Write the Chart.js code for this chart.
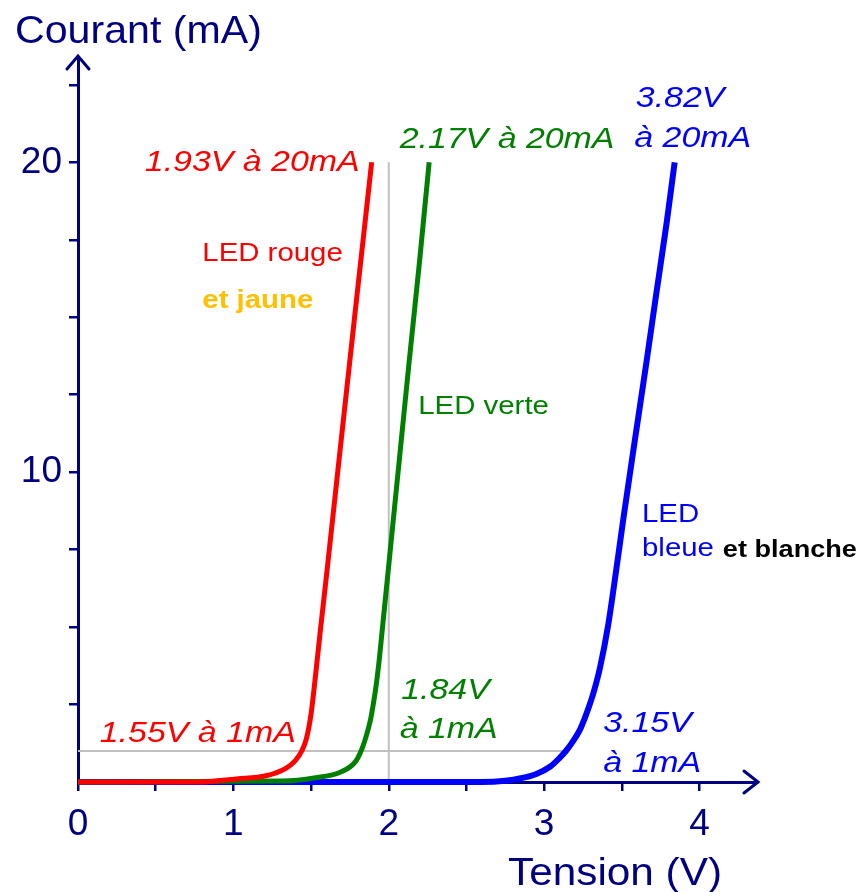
<!DOCTYPE html>
<html><head><meta charset="utf-8">
<script src="https://cdn.jsdelivr.net/npm/chart.js@4.4.1/dist/chart.umd.min.js"></script>
<style>html,body{margin:0;padding:0;background:#fff}canvas{display:block}</style>
</head><body>
<canvas id="c" width="859" height="892"></canvas>
<script>
// ---- data ----
const redVoltage   = [0, 0.78, 1.02, 1.21, 1.34, 1.40, 1.44, 1.47, 1.50, 1.53, 1.56, 1.60, 1.68, 1.78, 1.89];
const redCurrent   = [0, 0,    0.10, 0.20, 0.45, 0.70, 1.00, 1.40, 2.20, 3.50, 4.90, 6.70, 10.4, 15.0, 20.0];
const greenVoltage = [0, 1.32, 1.53, 1.68, 1.77, 1.80, 1.83, 1.86, 1.88, 1.90, 1.92, 1.94, 1.96, 2.01, 2.06, 2.13, 2.20, 2.26];
const greenCurrent = [0, 0.03, 0.14, 0.30, 0.57, 0.77, 1.10, 1.57, 1.95, 2.50, 3.16, 4.00, 5.00, 7.50, 10.0, 13.5, 16.9, 20.0];
const blueVoltage  = [0, 2.60, 2.75, 2.85, 2.95, 3.04, 3.10, 3.14, 3.18, 3.23, 3.26, 3.29, 3.32, 3.36, 3.41, 3.46, 3.51, 3.58, 3.66, 3.72, 3.79, 3.84];
const blueCurrent  = [0, 0,    0.04, 0.12, 0.26, 0.50, 0.78, 1.00, 1.27, 1.68, 2.04, 2.45, 2.92, 3.70, 5.00, 6.70, 8.50, 10.9, 13.6, 15.7, 18.1, 20.0];
const guideVertVoltage = [2, 2];
const guideVertCurrent = [0, 20];
const guideHorVoltage  = [0, 3.12];
const guideHorCurrent  = [1, 1];

const xTickValues = [0, 0.5, 1, 1.5, 2, 2.5, 3, 3.5, 4];
const xTickLabels = ['0', '', '1', '', '2', '', '3', '', '4'];
const yTickValues = [2.5, 5, 7.5, 10, 12.5, 15, 17.5, 20, 22.5];
const yTickLabels = ['', '', '', '10', '', '', '', '20', ''];

const xTitle = 'Tension (V)';
const yTitle = 'Courant (mA)';

// ---- styles ----
const NAVY = '#000080', RED = '#ff0000', GREEN = '#008000', BLUE = '#0000ff', GREY = '#c0c0c0', GOLD = '#ffc000';
const FAM = "'Liberation Sans', Arial, sans-serif";

// text labels anchored in data units (voltage, current) : left edge / baseline
const notes = [
  {t:'1.93V à 20mA', v:0.43, i:19.71, c:RED,   f:'italic 30px '},
  {t:'2.17V à 20mA', v:2.07, i:20.45, c:GREEN, f:'italic 30px '},
  {t:'3.82V',        v:3.59, i:21.78, c:BLUE,  f:'italic 30px '},
  {t:'à 20mA',       v:3.58, i:20.49, c:BLUE,  f:'italic 30px '},
  {t:'LED rouge',    v:0.80, i:16.83, c:RED,   f:'26px '},
  {t:'et jaune',     v:0.80, i:15.31, c:GOLD,  f:'bold 26px '},
  {t:'LED verte',    v:2.19, i:11.88, c:GREEN, f:'26px '},
  {t:'LED',          v:3.63, i:8.38,  c:BLUE,  f:'26px '},
  {t:'bleue',        v:3.63, i:7.28,  c:BLUE,  f:'26px '},
  {t:'et blanche',   v:4.15, i:7.25,  c:'#000', f:'bold 24px '},
  {t:'1.55V à 1mA',  v:0.14, i:1.29,  c:RED,   f:'italic 30px '},
  {t:'1.84V',        v:2.08, i:2.69,  c:GREEN, f:'italic 30px '},
  {t:'à 1mA',        v:2.07, i:1.42,  c:GREEN, f:'italic 30px '},
  {t:'3.15V',        v:3.38, i:1.62,  c:BLUE,  f:'italic 30px '},
  {t:'à 1mA',        v:3.38, i:0.32,  c:BLUE,  f:'italic 30px '}
];

const pts = (xs, ys) => xs.map((x, k) => ({x: x, y: ys[k]}));

function drawStretched(ctx, str, x, y, font, color, sx) {
  ctx.save();
  ctx.font = font + FAM;
  ctx.fillStyle = color;
  ctx.textBaseline = 'alphabetic';
  ctx.textAlign = 'left';
  ctx.translate(x, y);
  ctx.scale(sx, 1);
  ctx.fillText(str, 0, 0);
  ctx.restore();
}

const decor = {
  id: 'decor',
  afterDraw(chart) {
    const ctx = chart.ctx, xs = chart.scales.x, ys = chart.scales.y, a = chart.chartArea;
    // arrows
    ctx.save();
    ctx.strokeStyle = NAVY; ctx.lineWidth = 3; ctx.lineCap = 'round'; ctx.lineJoin = 'miter';
    ctx.beginPath();
    ctx.moveTo(a.left - 11, a.top + 12); ctx.lineTo(a.left, a.top - 1); ctx.lineTo(a.left + 11, a.top + 12);
    ctx.stroke();
    ctx.beginPath();
    ctx.moveTo(a.right - 13, a.bottom - 11); ctx.lineTo(a.right + 1, a.bottom); ctx.lineTo(a.right - 13, a.bottom + 11);
    ctx.stroke();
    ctx.restore();
    // axis titles
    drawStretched(ctx, yTitle, a.left - 63, a.top - 14, '39px ', NAVY, 1.055);
    drawStretched(ctx, xTitle, a.right - 249, a.bottom + 103, '39px ', NAVY, 1.085);
    // annotations
    notes.forEach(n => drawStretched(ctx, n.t, xs.getPixelForValue(n.v), ys.getPixelForValue(n.i), n.f, n.c, 1.13));
  }
};

const lineDs = (data, color, w) => ({
  data: data, borderColor: color, backgroundColor: color, borderWidth: w,
  pointRadius: 0, fill: false, cubicInterpolationMode: 'monotone', clip: false
});

new Chart(document.getElementById('c'), {
  type: 'line',
  data: {
    datasets: [
      lineDs(pts(redVoltage, redCurrent), RED, 5),
      lineDs(pts(greenVoltage, greenCurrent), GREEN, 5),
      lineDs(pts(blueVoltage, blueCurrent), BLUE, 6),
      Object.assign(lineDs(pts(guideVertVoltage, guideVertCurrent), GREY, 2), {cubicInterpolationMode: 'default', tension: 0}),
      Object.assign(lineDs(pts(guideHorVoltage, guideHorCurrent), GREY, 2), {cubicInterpolationMode: 'default', tension: 0})
    ]
  },
  options: {
    responsive: false, animation: false, devicePixelRatio: 1,
    layout: {padding: {left: 0, top: 57, right: 102, bottom: 0}},
    plugins: {legend: {display: false}, tooltip: {enabled: false}, title: {display: false}},
    scales: {
      x: {
        type: 'linear', min: 0, max: 4.37,
        afterFit: s => { s.height = 110; },
        afterBuildTicks: s => { s.ticks = xTickValues.map(v => ({value: v})); },
        ticks: {callback: (v, k) => xTickLabels[k], color: NAVY, font: {family: FAM, size: 37},
                padding: 12, autoSkip: false, maxRotation: 0, minRotation: 0},
        grid: {drawOnChartArea: false, drawTicks: true, tickLength: 9, color: NAVY, lineWidth: 2.5},
        border: {display: true, color: NAVY, width: 3}
      },
      y: {
        type: 'linear', min: 0, max: 23.4,
        afterFit: s => { s.width = 78; },
        afterBuildTicks: s => { s.ticks = yTickValues.map(v => ({value: v})); },
        ticks: {callback: (v, k) => yTickLabels[k], color: NAVY, font: {family: FAM, size: 37},
                padding: 7, autoSkip: false},
        grid: {drawOnChartArea: false, drawTicks: true, tickLength: 9, color: NAVY, lineWidth: 2.5},
        border: {display: true, color: NAVY, width: 3}
      }
    }
  },
  plugins: [decor]
});
</script>
</body></html>
